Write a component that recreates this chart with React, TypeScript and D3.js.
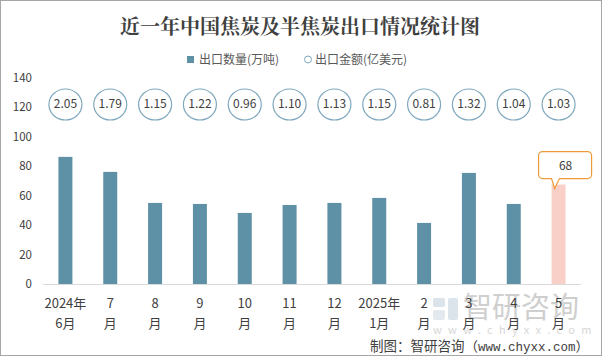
import React from "react";
import * as d3 from "d3";

const months = ["2024年\n6月", "7\n月", "8\n月", "9\n月", "10\n月", "11\n月", "12\n月", "2025年\n1月", "2\n月", "3\n月", "4\n月", "5\n月"];
const volume = [86.4, 76.2, 55.1, 54.4, 48.3, 53.7, 55.1, 58.5, 41.5, 75.5, 54.4, 67.6];
const amount = ["2.05", "1.79", "1.15", "1.22", "0.96", "1.10", "1.13", "1.15", "0.81", "1.32", "1.04", "1.03"];
const yTicks = [0, 20, 40, 60, 80, 100, 120, 140];
const amountLevel = 122;
const calloutLabel = "68";

const W = 602, H = 356;

export default function App() {
  const x = d3.scaleBand<string>().domain(months).range([43, 581]).paddingInner(0.688).paddingOuter(0.344);
  const y = d3.scaleLinear().domain([0, 140]).range([284, 78]);
  const last = months.length - 1;
  const lx = (x(months[last]) as number) + x.bandwidth() / 2;
  const ly = y(volume[last]);
  const font = "'Microsoft YaHei','Noto Sans CJK SC','Noto Sans',sans-serif";
  const bx0 = lx - 20, bx1 = lx + 33, by0 = ly - 33, by1 = ly - 6;
  return (
    <svg width={W} height={H} style={{ position: "absolute", left: 0, top: 0, background: "#fff" }} fontFamily={font}>
      <rect x={0.5} y={0.5} width={W - 1} height={H - 1} fill="#fff" stroke="#a6a6a6" />
      <text x={300} y={34} textAnchor="middle" fontSize={20} fontWeight="bold" fill="#404040" fontFamily="'Noto Serif CJK SC','Noto Sans CJK SC',serif">近一年中国焦炭及半焦炭出口情况统计图</text>
      {/* legend */}
      <rect x={187} y={56} width={7} height={7} fill="#5e90a6" />
      <text x={199} y={64} fontSize={12} fill="#595959">出口数量(万吨)</text>
      <circle cx={308} cy={59.5} r={3.5} fill="none" stroke="#7fa7bd" strokeWidth={1} />
      <text x={315} y={64} fontSize={12} fill="#595959">出口金额(亿美元)</text>
      {/* y ticks */}
      {yTicks.map((t) => (
        <text key={t} x={32} y={y(t) + 4} textAnchor="end" fontSize={11.5} fill="#404040">{t}</text>
      ))}
      {/* watermark */}
      <g opacity={0.5}>
        <rect x={433} y={298} width={12} height={9} rx={2} fill="#b8c8d8" />
        <rect x={448} y={298} width={10} height={22} rx={2} fill="#b8c8d8" />
        <rect x={433} y={310} width={12} height={10} rx={2} fill="#c8d4e0" />
        <text x={463} y={318} fontSize={29} fill="#a0a0a0">智研咨询</text>
        <text x={433} y={334} fontSize={11} fill="#b0b0b0" letterSpacing={6.3}>www.chyxx.com</text>
      </g>
      {/* bars */}
      {volume.map((v, i) => (
        <rect key={i} x={x(months[i])} y={y(v)} width={x.bandwidth()} height={y(0) - y(v)} fill={i === last ? "#f8d0c8" : "#5e90a6"} />
      ))}
      <line x1={43} x2={581} y1={284.5} y2={284.5} stroke="#d9d9d9" />
      {/* x labels */}
      {months.map((m, i) => {
        const cx = (x(m) as number) + x.bandwidth() / 2;
        const parts = m.split("\n");
        return (
          <text key={m} x={cx} textAnchor="middle" fontSize={13} fill="#404040">
            <tspan x={cx} y={308}>{parts[0]}</tspan>
            <tspan x={cx} y={328}>{parts[1]}</tspan>
          </text>
        );
      })}
      {/* amount circles */}
      {amount.map((a, i) => {
        const cx = (x(months[i]) as number) + x.bandwidth() / 2;
        return (
          <g key={i}>
            <ellipse cx={cx} cy={y(amountLevel)} rx={16.5} ry={15.5} fill="#fff" stroke="#7fa7bd" strokeWidth={1.2} />
            <text x={cx} y={y(amountLevel) + 4} textAnchor="middle" fontSize={12} fill="#404040">{a}</text>
          </g>
        );
      })}
      {/* callout */}
      <path
        d={`M${bx0 + 4},${by0} H${bx1 - 4} A4,4 0 0 1 ${bx1},${by0 + 4} V${by1 - 4} A4,4 0 0 1 ${bx1 - 4},${by1} H${lx + 1} L${lx - 4},${ly + 4} L${lx - 7},${by1} H${bx0 + 4} A4,4 0 0 1 ${bx0},${by1 - 4} V${by0 + 4} A4,4 0 0 1 ${bx0 + 4},${by0} Z`}
        fill="#fff" stroke="#ed9b3a" strokeWidth={1.2}
      />
      <text x={lx + 7} y={ly - 15} textAnchor="middle" fontSize={12} fill="#404040">{calloutLabel}</text>
      <text x={589} y={351} textAnchor="end" fontSize={13.5} fill="#404040">制图：智研咨询（<tspan fontFamily="'Liberation Mono',monospace" fontSize={12.5}>www.chyxx.com</tspan>）</text>
    </svg>
  );
}
